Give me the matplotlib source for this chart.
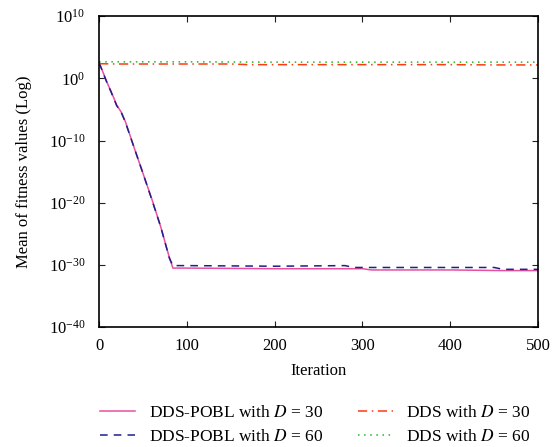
import numpy as np
import matplotlib.pyplot as plt

plt.rcParams['font.family'] = ['Liberation Serif', 'DejaVu Serif']
plt.rcParams['mathtext.fontset'] = 'stix'

# iterations and log10 of mean fitness
pobl30_iter = [0, 10, 13, 20, 25, 30, 40, 50, 60, 70, 80, 84, 100, 200, 300, 310, 400, 460, 500]
pobl30_log = [2.5, -1.0, -1.9, -4.3, -5.4, -7.0, -11.2, -15.3, -19.4, -23.8, -28.8, -30.5, -30.5,
              -30.6, -30.6, -30.8, -30.8, -30.9, -30.9]

pobl60_iter = [0, 10, 13, 20, 25, 30, 40, 50, 60, 70, 80, 84, 100, 200, 280, 290, 400, 450, 460, 500]
pobl60_log = [2.5, -1.1, -2.0, -4.4, -5.4, -7.1, -11.2, -15.3, -19.5, -23.8, -28.9, -30.1, -30.1,
              -30.2, -30.1, -30.4, -30.4, -30.4, -30.7, -30.7]

dds30_iter = [0, 20, 150, 170, 400, 450, 500]
dds30_log = [2.35, 2.3, 2.3, 2.2, 2.2, 2.15, 2.15]

dds60_iter = [0, 100, 200, 300, 400, 500]
dds60_log = [2.65, 2.65, 2.6, 2.6, 2.6, 2.6]

fig = plt.figure(figsize=(5.57, 4.47), dpi=100)
ax = fig.add_axes([0.178, 0.268, 0.788, 0.696])

ax.plot(pobl30_iter, 10.0 ** np.array(pobl30_log), color='#e8509f', lw=1.1,
        label='DDS-POBL with $D$ = 30')
ax.plot(pobl60_iter, 10.0 ** np.array(pobl60_log), color='#1f1f8c', lw=1.1, ls=(0, (5, 4)),
        label='DDS-POBL with $D$ = 60')
ax.plot(dds30_iter, 10.0 ** np.array(dds30_log), color='#ff3a10', lw=1.1, ls=(0, (6, 3, 1, 3)),
        label='DDS with $D$ = 30')
ax.plot(dds60_iter, 10.0 ** np.array(dds60_log), color='#22b822', lw=1.1, ls=(0, (1, 3)),
        label='DDS with $D$ = 60')

ax.set_yscale('log')
ax.set_xlim(0, 500)
ax.set_ylim(1e-40, 1e10)
ax.set_yticks([1e-40, 1e-30, 1e-20, 1e-10, 1e0, 1e10])
ax.minorticks_off()
ax.tick_params(direction='in', top=True, right=True, labelsize=12, length=4, color='#222222')
ax.tick_params(axis='x', pad=8)
ax.tick_params(axis='y', pad=10)
ax.set_xlabel('Iteration', fontsize=12, labelpad=6)
ax.set_ylabel('Mean of fitness values (Log)', fontsize=12, labelpad=12)
for s in ax.spines.values():
    s.set_linewidth(1.2)

handles, labels = ax.get_legend_handles_labels()
fig.legend(handles, labels, ncol=2, frameon=False,
           loc='upper left', bbox_to_anchor=(0.152, 0.13), fontsize=12.5,
           columnspacing=2.0, handlelength=2.0, handletextpad=0.8, labelspacing=0.45)

plt.savefig('out.png', dpi=100)
plt.close()
